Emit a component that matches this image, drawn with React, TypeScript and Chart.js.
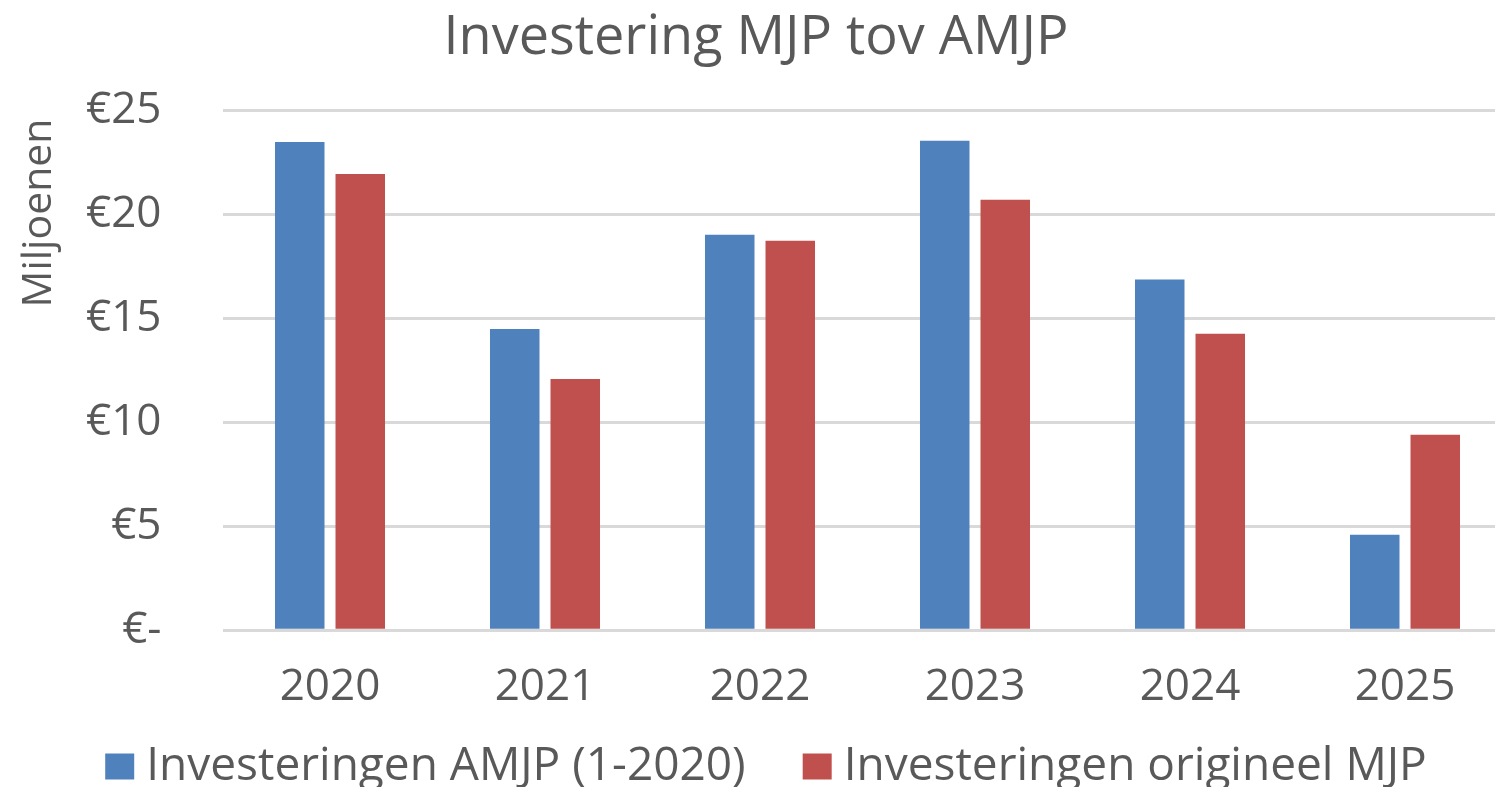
import React, { useEffect, useRef } from "react";
import { Chart, registerables } from "chart.js";

Chart.register(...registerables);

const categories = ["2020", "2021", "2022", "2023", "2024", "2025"];
const amjpValues = [23.48, 14.49, 19.02, 23.54, 16.86, 4.59];
const origineelValues = [21.94, 12.08, 18.73, 20.7, 14.26, 9.4];
const seriesLabels = ["Investeringen AMJP (1-2020)", "Investeringen origineel MJP"];
const seriesColors = ["#4F81BD", "#C0504D"];
const yMin = 0;
const yMax = 25;
const yStep = 5;
const chartTitle = "Investering MJP tov AMJP";
const yAxisTitle = "Miljoenen";

const FONT = "'Open Sans', 'Noto Sans', sans-serif";
const TEXT = "#595959";
const CANVAS_W = 1530;
const CANVAS_H = 787;

const decorPlugin = {
  id: "decor",
  afterDraw(chart: any) {
    const ctx = chart.ctx;
    ctx.save();
    // Title
    ctx.fillStyle = TEXT;
    ctx.font = `54px ${FONT}`;
    ctx.textAlign = "center";
    ctx.textBaseline = "alphabetic";
    ctx.fillText(chartTitle, 756, 54);

    // Y axis title
    ctx.save();
    ctx.translate(51, 213);
    ctx.rotate(-Math.PI / 2);
    ctx.font = `41px ${FONT}`;
    ctx.textAlign = "center";
    ctx.textBaseline = "alphabetic";
    ctx.fillText(yAxisTitle, 0, 0);
    ctx.restore();

    // Legend
    ctx.font = `46px ${FONT}`;
    ctx.textAlign = "left";
    ctx.textBaseline = "alphabetic";
    const boxW = 29;
    const boxH = 26;
    const boxGap = 12;
    const itemGap = 57;
    const datasets = chart.data.datasets;
    const widths = datasets.map((d: any) => ctx.measureText(d.label).width);
    let total = 0;
    widths.forEach((w: number, i: number) => {
      total += boxW + boxGap + w + (i < widths.length - 1 ? itemGap : 0);
    });
    let x = 766 - total / 2;
    datasets.forEach((d: any, i: number) => {
      ctx.fillStyle = d.backgroundColor;
      ctx.fillRect(x, 753.5, boxW, boxH);
      ctx.fillStyle = TEXT;
      ctx.fillText(d.label, x + boxW + boxGap, 780);
      x += boxW + boxGap + widths[i] + itemGap;
    });
    ctx.restore();
  },
};

export default function App() {
  const canvasRef = useRef<HTMLCanvasElement | null>(null);

  useEffect(() => {
    if (!canvasRef.current) return;
    const chart = new Chart(canvasRef.current, {
      type: "bar",
      data: {
        labels: categories,
        datasets: [
          {
            label: seriesLabels[0],
            data: amjpValues,
            backgroundColor: seriesColors[0],
            categoryPercentage: 0.563,
            barPercentage: 0.818,
          },
          {
            label: seriesLabels[1],
            data: origineelValues,
            backgroundColor: seriesColors[1],
            categoryPercentage: 0.563,
            barPercentage: 0.818,
          },
        ],
      },
      options: {
        responsive: false,
        animation: false,
        devicePixelRatio: 1,
        layout: { padding: { top: 110.3, right: CANVAS_W - 1512.5, bottom: 0, left: 0 } },
        plugins: {
          legend: { display: false },
          title: { display: false },
          tooltip: { enabled: false },
        },
        scales: {
          x: {
            grid: { display: false, drawTicks: false },
            border: { display: false },
            ticks: {
              color: TEXT,
              font: { family: FONT, size: 44 },
              padding: 31,
            },
            afterFit: (scale: any) => {
              scale.height = CANVAS_H - 630.3;
            },
          },
          y: {
            min: yMin,
            max: yMax,
            grid: { color: "#D9D9D9", lineWidth: 3, drawTicks: false },
            border: { display: false },
            ticks: {
              stepSize: yStep,
              color: TEXT,
              font: { family: FONT, size: 44 },
              padding: 61,
              callback: (v: any) => (Number(v) === 0 ? "€-" : "€" + v),
            },
            afterFit: (scale: any) => {
              scale.width = 222.5;
            },
          },
        },
      },
      plugins: [decorPlugin],
    });
    return () => chart.destroy();
  }, []);

  return (
    <div
      style={{
        position: "fixed",
        left: 0,
        top: 0,
        width: 1495,
        height: 787,
        overflow: "hidden",
        background: "#ffffff",
      }}
    >
      <canvas
        ref={canvasRef}
        width={CANVAS_W}
        height={CANVAS_H}
        style={{ display: "block", width: CANVAS_W, height: CANVAS_H }}
      />
    </div>
  );
}
